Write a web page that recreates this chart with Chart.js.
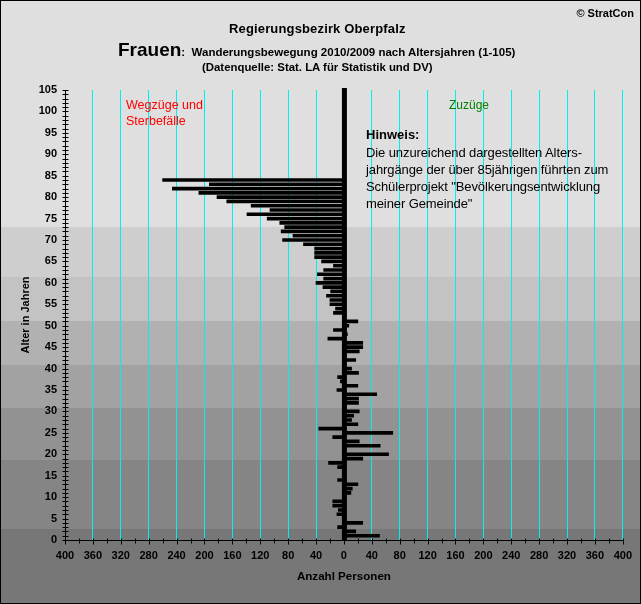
<!DOCTYPE html>
<html>
<head>
<meta charset="utf-8">
<title>Frauen</title>
<script src="https://cdn.jsdelivr.net/npm/chart.js@4"></script>
<style>
html, body { margin: 0; padding: 0; }
body { width: 641px; height: 604px; position: relative; overflow: hidden; font-family: "Liberation Sans", Arial, sans-serif; color: #000; }
#bg { position: absolute; left: 0; top: 0; width: 641px; height: 604px; box-sizing: border-box; border: 1px solid #000;
  background: linear-gradient(to bottom, #dfdfdf 0 226px, #cecece 226px 276px, #c3c3c3 276px 320px, #b1b1b1 320px 364px, #a2a2a2 364px 407px, #929292 407px 459px, #858585 459px 528px, #777 528px 604px); }
canvas { position: absolute; left: 0; top: 0; }
.t { position: absolute; white-space: nowrap; font-weight: bold; }
</style>
</head>
<body>
<div id="bg"></div>
<canvas id="myChart" width="641" height="604"></canvas>
<div class="t" style="right:7px;top:7px;font-size:11px;">© StratCon</div>
<div class="t" style="left:229px;top:21px;font-size:13px;letter-spacing:0.15px;">Regierungsbezirk Oberpfalz</div>
<div class="t" style="left:118px;top:39px;font-size:19px;">Frauen<span style="font-size:11.5px;">:&nbsp; Wanderungsbewegung 2010/2009 nach Altersjahren (1-105)</span></div>
<div class="t" style="left:202px;top:61px;font-size:11.4px;">(Datenquelle: Stat. LA für Statistik und DV)</div>
<div class="t" style="left:126px;top:97px;font-size:12.5px;color:#f00;font-weight:normal;line-height:16px;">Wegzüge und<br>Sterbefälle</div>
<div class="t" style="left:449px;top:97px;font-size:12px;color:#008000;font-weight:normal;line-height:16px;">Zuzüge</div>
<div class="t" style="left:366px;top:127px;font-size:13px;">Hinweis:</div>
<div class="t" style="left:366px;top:144px;font-size:13px;letter-spacing:-0.1px;font-weight:normal;line-height:17px;">Die unzureichend dargestellten Alters-<br>jahrgänge der über 85jährigen führten zum<br>Schülerprojekt "Bevölkerungsentwicklung<br>meiner Gemeinde"</div>
<script>
const ages = [1, 2, 3, 4, 6, 7, 8, 9, 11, 12, 13, 14, 17, 18, 19, 20, 22, 23, 24, 25, 26, 27, 28, 29, 30, 32, 33, 34, 35, 36, 37, 38, 39, 40, 42, 44, 45, 46, 47, 48, 49, 50, 51, 53, 54, 55, 56, 57, 58, 59, 60, 61, 62, 63, 64, 65, 66, 67, 68, 69, 70, 71, 72, 73, 74, 75, 76, 77, 78, 79, 80, 81, 82, 83, 84];
const wegzuege = [0, 0, 9, 0, 10, 8, 16, 16, 0, 0, 0, 9, 9, 22, 0, 0, 0, 0, 16, 0, 36, 0, 0, 0, 0, 0, 0, 0, 10, 0, 5, 9, 0, 0, 0, 0, 0, 0, 23, 0, 15, 0, 0, 15, 12, 20, 20, 25, 19, 30, 40, 29, 38, 29, 15, 32, 42, 42, 42, 58, 88, 73, 90, 85, 92, 110, 139, 106, 133, 168, 182, 208, 246, 193, 260];
const zuzuege = [51, 17, 0, 27, 0, 0, 0, 0, 10, 12, 20, 0, 0, 0, 27, 64, 52, 22, 0, 70, 0, 20, 11, 14, 22, 21, 21, 47, 0, 20, 0, 0, 21, 11, 17, 22, 27, 27, 0, 5, 0, 7, 20, 0, 0, 0, 0, 0, 0, 0, 0, 0, 0, 0, 0, 0, 0, 0, 0, 0, 0, 0, 0, 0, 0, 0, 0, 0, 0, 0, 0, 0, 0, 0, 0];

const xMax = 400;
const yMax = 105;

// tick marks crossing both axes, plus the thick zero line
const axisMarks = {
    id: 'axisMarks',
    afterDatasetsDraw(chart) {
        const { ctx, scales: { x, y } } = chart;
        ctx.save();
        ctx.strokeStyle = '#000';
        ctx.lineWidth = 1;
        ctx.beginPath();
        const bottom = Math.round(y.getPixelForValue(0)) + 0.5;
        const left = Math.round(x.getPixelForValue(-xMax)) + 0.5;
        ctx.moveTo(left, bottom);
        ctx.lineTo(Math.round(x.getPixelForValue(xMax)) + 1, bottom);
        ctx.moveTo(left, bottom);
        ctx.lineTo(left, Math.round(y.getPixelForValue(yMax)));
        for (let v = -xMax; v <= xMax; v += 20) {
            const px = Math.round(x.getPixelForValue(v)) + 0.5;
            ctx.moveTo(px, bottom - 2);
            ctx.lineTo(px, bottom + (v % 40 === 0 ? 4 : 3));
        }
        for (let a = 0; a <= yMax; a++) {
            const py = Math.round(y.getPixelForValue(a)) + 0.5;
            ctx.moveTo(left - 3, py);
            ctx.lineTo(left + 3, py);
        }
        ctx.stroke();
        const zero = x.getPixelForValue(0);
        ctx.fillStyle = '#000';
        ctx.fillRect(zero - 2, y.getPixelForValue(yMax) - 2, 5, y.getPixelForValue(0) - y.getPixelForValue(yMax) + 2);
        ctx.restore();
    }
};

new Chart(document.getElementById('myChart'), {
    type: 'bar',
    data: {
        labels: ages,
        datasets: [
            { label: 'Wegzüge und Sterbefälle', data: ages.map((a, i) => ({ x: -wegzuege[i], y: a })), backgroundColor: '#000' },
            { label: 'Zuzüge', data: ages.map((a, i) => ({ x: zuzuege[i], y: a })), backgroundColor: '#000' }
        ]
    },
    options: {
        indexAxis: 'y',
        responsive: false,
        animation: false,
        devicePixelRatio: 1,
        layout: { autoPadding: false, padding: { top: 90, right: 14, bottom: 0, left: 0 } },
        datasets: { bar: { barThickness: 3, grouped: false } },
        plugins: { legend: { display: false }, tooltip: { enabled: false }, title: { display: false } },
        scales: {
            x: {
                type: 'linear',
                min: -xMax,
                max: xMax,
                afterFit(scale) { scale.height = 64; },
                afterBuildTicks(scale) {
                    const t = [];
                    for (let v = -xMax; v <= xMax; v += 40) t.push({ value: v });
                    scale.ticks = t;
                },
                grid: { color: c => (c.tick && c.tick.value === -xMax ? 'transparent' : '#00f0f0'), lineWidth: 1, drawTicks: false, drawOnChartArea: true },
                border: { display: false },
                ticks: {
                    autoSkip: false,
                    maxRotation: 0,
                    padding: 9,
                    color: '#000',
                    font: { family: '"Liberation Sans", Arial, sans-serif', size: 11, weight: 'bold' },
                    callback: v => Math.abs(v)
                },
                title: {
                    display: true,
                    text: 'Anzahl Personen',
                    color: '#000',
                    padding: { top: 0, bottom: 20 },
                    font: { family: '"Liberation Sans", Arial, sans-serif', size: 11.6, weight: 'bold' }
                }
            },
            y: {
                type: 'linear',
                offset: false,
                min: 0,
                max: yMax,
                afterFit(scale) { scale.width = 65; },
                grid: { display: false, offset: false },
                border: { display: false },
                ticks: {
                    stepSize: 5,
                    autoSkip: false,
                    padding: 0,
                    color: '#000',
                    font: { family: '"Liberation Sans", Arial, sans-serif', size: 11, weight: 'bold' }
                },
                title: {
                    display: true,
                    text: 'Alter in Jahren',
                    color: '#000',
                    padding: { top: 19, bottom: 0 },
                    font: { family: '"Liberation Sans", Arial, sans-serif', size: 11, weight: 'bold' }
                }
            }
        }
    },
    plugins: [axisMarks]
});
</script>
</body>
</html>
